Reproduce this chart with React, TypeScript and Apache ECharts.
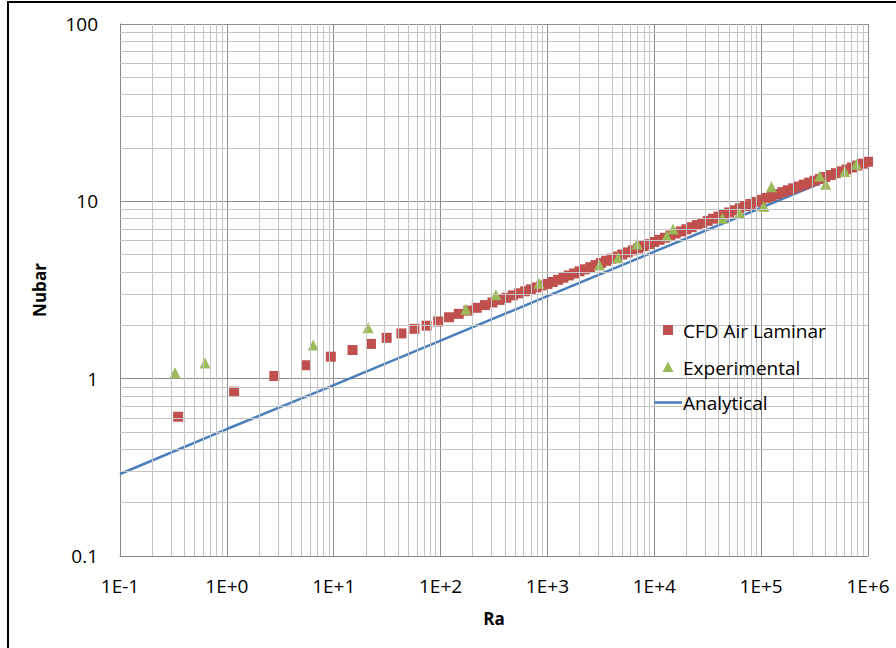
import React, { useEffect, useRef } from "react";
import * as echarts from "echarts";

// ---- Data ----
const cfdRa = [
  0.35, 1.17, 2.78, 5.5, 9.4, 15.0, 22.3, 31.3, 43, 57, 74, 95, 120, 148,
  182, 218, 260, 306, 356, 413, 475, 543, 618, 698, 786, 880,
  1000, 1122, 1259, 1413, 1585, 1778, 1995, 2239, 2512, 2818,
  3162, 3548, 3981, 4467, 5012, 5623, 6310, 7079, 7943, 8913,
  10000, 11220, 12590, 14130, 15850, 17780, 19950, 22390, 25120, 28180,
  31620, 35480, 39810, 44670, 50120, 56230, 63100, 70790, 79430, 89130,
  100000, 112200, 125900, 141300, 158500, 177800, 199500, 223900, 251200, 281800,
  316200, 354800, 398100, 446700, 501200, 562300, 631000, 707900, 794300, 891300,
  1000000,
];
const cfdNu = [
  0.61, 0.845, 1.035, 1.19, 1.33, 1.45, 1.57, 1.7, 1.8, 1.91, 1.99, 2.1, 2.22, 2.32,
  2.42, 2.51, 2.6, 2.69, 2.78, 2.86, 2.95, 3.03, 3.11, 3.19, 3.27, 3.35,
  3.42, 3.51, 3.61, 3.71, 3.82, 3.92, 4.03, 4.14, 4.25, 4.37,
  4.49, 4.62, 4.75, 4.88, 5.01, 5.15, 5.29, 5.44, 5.59, 5.74,
  5.9, 6.07, 6.23, 6.41, 6.59, 6.77, 6.96, 7.15, 7.35, 7.55,
  7.76, 7.98, 8.2, 8.43, 8.66, 8.9, 9.15, 9.4, 9.66, 9.93,
  10.2, 10.46, 10.72, 11.0, 11.27, 11.55, 11.84, 12.13, 12.43, 12.75,
  13.06, 13.39, 13.72, 14.07, 14.42, 14.77, 15.14, 15.52, 15.91, 16.3,
  16.71,
];

const expRa = [
  0.327, 0.624, 6.43, 21.0, 172.5, 329, 836, 3059, 4585, 6902,
  13090, 14990, 43450, 63070, 105800, 124900, 353300, 402000, 605300, 778800,
];
const expNu = [
  1.08, 1.226, 1.549, 1.94, 2.46, 2.97, 3.45, 4.38, 4.8, 5.74,
  6.38, 6.99, 8.03, 8.6, 9.36, 12.1, 13.91, 12.49, 14.71, 16.21,
];

const analyticalRa = [0.1, 1, 10, 100, 1000, 10000, 100000, 1000000];
const analyticalNu = [0.29, 0.52, 0.92, 1.64, 2.92, 5.2, 9.2, 16.4];

const xTickValues = [0.1, 1, 10, 100, 1000, 10000, 100000, 1000000];
const xTickLabels = ["1E-1", "1E+0", "1E+1", "1E+2", "1E+3", "1E+4", "1E+5", "1E+6"];
const yTickValues = [0.1, 1, 10, 100];
const yTickLabels = ["0.1", "1", "10", "100"];
const minorMultipliers = [2, 3, 4, 5, 6, 7, 8, 9];

const seriesNames = ["CFD Air Laminar", "Experimental", "Analytical"];
const RED = "#C0504D";
const GREEN = "#9BBB59";
const BLUE = "#4A7EBB";

function labelFor(values: number[], labels: string[], v: number): string {
  let best = 0;
  let bestD = Infinity;
  for (let i = 0; i < values.length; i++) {
    const d = Math.abs(Math.log10(values[i]) - Math.log10(v));
    if (d < bestD) {
      bestD = d;
      best = i;
    }
  }
  return labels[best];
}

export default function App() {
  const ref = useRef<HTMLDivElement>(null);

  useEffect(() => {
    if (!ref.current) return;
    const chart = echarts.init(ref.current, null, { renderer: "svg" });

    const xMinor: { xAxis: number }[] = [];
    for (let i = 0; i < xTickValues.length - 1; i++) {
      for (const m of minorMultipliers) xMinor.push({ xAxis: xTickValues[i] * m });
    }
    const yMinor: { yAxis: number }[] = [];
    for (let i = 0; i < yTickValues.length - 1; i++) {
      for (const m of minorMultipliers) yMinor.push({ yAxis: yTickValues[i] * m });
    }

    const font = "'Open Sans', 'Noto Sans', sans-serif";
    const legendX = 654;
    const legendTextX = 683;
    const legendY = [330, 367, 402.5];

    chart.setOption({
      animation: false,
      backgroundColor: "#ffffff",
      grid: { left: 120, top: 24, width: 748, height: 532, containLabel: false },
      graphic: [
        {
          type: "rect",
          shape: { x: 8, y: 2, width: 1000, height: 1000 },
          style: { fill: "none", stroke: "#000", lineWidth: 2 },
          silent: true,
          z: 100,
        },
        {
          type: "rect",
          shape: { x: legendX + 9, y: legendY[0] - 5, width: 10, height: 10 },
          style: { fill: RED },
          silent: true,
          z: 50,
        },
        {
          type: "polygon",
          shape: {
            points: [
              [legendX + 14, legendY[1] - 5.5],
              [legendX + 19.5, legendY[1] + 5],
              [legendX + 8.5, legendY[1] + 5],
            ],
          },
          style: { fill: GREEN },
          silent: true,
          z: 50,
        },
        {
          type: "line",
          shape: { x1: legendX, y1: legendY[2], x2: legendX + 28, y2: legendY[2] },
          style: { stroke: BLUE, lineWidth: 2.5 },
          silent: true,
          z: 50,
        },
        ...seriesNames.map((n, i) => ({
          type: "text",
          silent: true,
          z: 50,
          style: {
            text: n,
            x: legendTextX,
            y: legendY[i] + 0.5,
            fill: "#000",
            fontFamily: font,
            fontSize: 19,
            verticalAlign: "middle",
            align: "left",
          },
        })),
      ],
      xAxis: {
        type: "log",
        logBase: 10,
        min: 0.1,
        max: 1000000,
        splitNumber: 7,
        name: "Ra",
        nameLocation: "middle",
        nameGap: 54,
        nameTextStyle: { fontFamily: font, fontSize: 17, fontWeight: "bold", color: "#000" },
        axisLine: { show: true, lineStyle: { color: "#868686", width: 1 } },
        axisTick: { show: false },
        axisLabel: {
          fontFamily: font,
          fontSize: 19,
          color: "#000",
          margin: 20,
          formatter: (v: number) => labelFor(xTickValues, xTickLabels, v),
        },
        splitLine: { show: true, lineStyle: { color: "#8c8c8c", width: 1 } },
      },
      yAxis: {
        type: "log",
        logBase: 10,
        min: 0.1,
        max: 100,
        splitNumber: 3,
        name: "Nubar",
        nameLocation: "middle",
        nameGap: 72,
        nameTextStyle: { fontFamily: font, fontSize: 17, fontWeight: "bold", color: "#000" },
        axisLine: { show: true, lineStyle: { color: "#868686", width: 1 } },
        axisTick: { show: false },
        axisLabel: {
          fontFamily: font,
          fontSize: 19,
          color: "#000",
          margin: 22,
          formatter: (v: number) => labelFor(yTickValues, yTickLabels, v),
        },
        splitLine: { show: true, lineStyle: { color: "#8c8c8c", width: 1 } },
      },
      series: [
        {
          name: "minor-grid",
          type: "line",
          data: [],
          silent: true,
          z: 0,
          markLine: {
            silent: true,
            symbol: ["none", "none"],
            label: { show: false },
            lineStyle: { color: "#c4c4c4", width: 1, type: "solid" },
            emphasis: { disabled: true },
            data: [...xMinor, ...yMinor],
          },
        },
        {
          name: "Analytical",
          type: "line",
          data: analyticalRa.map((r, i) => [r, analyticalNu[i]]),
          symbol: "none",
          showSymbol: false,
          lineStyle: { color: BLUE, width: 2.5 },
          itemStyle: { color: BLUE },
          z: 2,
        },
        {
          name: "CFD Air Laminar",
          type: "scatter",
          data: cfdRa.map((r, i) => [r, cfdNu[i]]),
          symbol: "rect",
          symbolSize: 10,
          itemStyle: { color: RED, opacity: 1 },
          z: 3,
        },
        {
          name: "Experimental",
          type: "scatter",
          data: expRa.map((r, i) => [r, expNu[i]]),
          symbol: "triangle",
          symbolSize: 11,
          itemStyle: { color: GREEN, opacity: 1 },
          z: 4,
        },
      ],
    });

    return () => chart.dispose();
  }, []);

  return (
    <div
      ref={ref}
      style={{ position: "fixed", left: 0, top: 0, width: 896, height: 648, background: "#fff" }}
    />
  );
}
